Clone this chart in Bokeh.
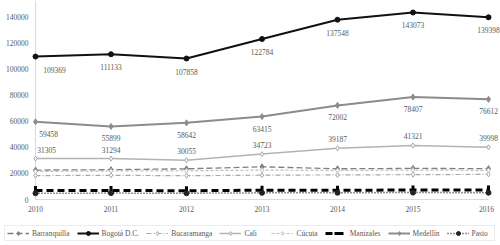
import math
from bokeh.plotting import figure
from bokeh.models import Range1d, Legend, LegendItem, ColumnDataSource
from bokeh.core.properties import value
from bokeh.embed import file_html
from bokeh.resources import INLINE

years = [2010, 2011, 2012, 2013, 2014, 2015, 2016]
barranquilla = [22500, 22800, 23500, 25000, 23500, 23800, 23600]
bogota = [109369, 111133, 107858, 122784, 137548, 143073, 139398]
bucaramanga = [18300, 18500, 18200, 18600, 18800, 19000, 19200]
cali = [31305, 31294, 30055, 34723, 39187, 41321, 39998]
cucuta = [21500, 21800, 22000, 22500, 22200, 22500, 22300]
manizales = [6800, 6900, 6700, 7100, 7000, 7300, 7200]
medellin = [59458, 55899, 58642, 63415, 72002, 78407, 76612]
pasto = [4800, 4900, 4800, 5100, 5200, 5300, 5200]
y_ticks = [0, 20000, 40000, 60000, 80000, 100000, 120000, 140000]

FONT = "Liberation Serif"
TXT = "#595959"
AXIS = "#d9d9d9"

W, H = 500, 245
X_LEFT, X_RIGHT = 35, 488      # pixel positions of first / last year
Y_ZERO = 199                    # pixel row of value 0 (from top)
Y_TOP_VAL = 152250              # value at the top edge
px_per_year = (X_RIGHT - X_LEFT) / (years[-1] - years[0])
x_start = years[0] - X_LEFT / px_per_year
x_end = years[-1] + (W - X_RIGHT) / px_per_year
y_start = -Y_TOP_VAL * (H - Y_ZERO) / Y_ZERO

p = figure(width=W, height=H, output_backend="svg", toolbar_location=None,
           x_range=Range1d(x_start, x_end), y_range=Range1d(y_start, Y_TOP_VAL),
           x_axis_location=None, y_axis_location=None,
           min_border=0)
p.outline_line_color = None
p.grid.visible = False
p.background_fill_color = "white"

# axis lines
p.segment(x0=[years[0], years[0]], y0=[0, 0], x1=[years[-1], years[0]], y1=[0, Y_TOP_VAL],
          line_color=AXIS, line_width=1)

# y tick labels
p.text(x=[years[0]] * len(y_ticks), y=y_ticks, text=[str(t) for t in y_ticks],
       x_offset=-7, text_font=value(FONT), text_font_size="7.5px", text_color=TXT,
       text_align="right", text_baseline="middle")
# x tick labels
p.text(x=years, y=[0] * len(years), text=[str(y) for y in years],
       x_offset=[0] * (len(years) - 1) + [-2], y_offset=6,
       text_font=value(FONT), text_font_size="7.5px", text_color=TXT,
       text_align="center", text_baseline="top")

series = [
    ("Barranquilla", barranquilla, dict(line_color="#7f7f7f", line_width=1.3, line_dash="6 3"),
     dict(marker="diamond", size=6, color="#7f7f7f")),
    ("Bogotá D.C.", bogota, dict(line_color="#111111", line_width=2),
     dict(marker="circle", size=5, color="#111111")),
    ("Bucaramanga", bucaramanga, dict(line_color="#a6a6a6", line_width=1.2, line_dash="5 2 1 2"),
     dict(marker="diamond", size=5, fill_color="white", line_color="#a6a6a6")),
    ("Cali", cali, dict(line_color="#b3b3b3", line_width=1.5),
     dict(marker="diamond", size=5, fill_color="white", line_color="#a6a6a6")),
    ("Cúcuta", cucuta, dict(line_color="#bfbfbf", line_width=1.2, line_dash="3 2"),
     dict(marker="diamond", size=5, fill_color="white", line_color="#bfbfbf")),
    ("Manizales", manizales, dict(line_color="#000000", line_width=3, line_dash="7 4"),
     dict(marker="dash", size=9, angle=math.pi / 2, line_color="#000000", line_width=3)),
    ("Medellín", medellin, dict(line_color="#8c8c8c", line_width=2),
     dict(marker="diamond", size=6, color="#8c8c8c")),
    ("Pasto", pasto, dict(line_color="#222222", line_width=1.5, line_dash="1 2"),
     dict(marker="circle", size=5, color="#222222")),
]

items = []
for name, vals, lstyle, mstyle in series:
    src = ColumnDataSource(dict(x=years, y=vals))
    r1 = p.line("x", "y", source=src, **lstyle)
    r2 = p.scatter("x", "y", source=src, **mstyle)
    items.append(LegendItem(label=name, renderers=[r1, r2]))

def add_labels(vals, y_off, first_off):
    n = len(vals)
    xo = [first_off if i == 0 else 0 for i in range(n)]
    src = ColumnDataSource(dict(x=years, y=vals, t=[str(v) for v in vals], xo=xo))
    p.text("x", "y", text="t", source=src, x_offset="xo", y_offset=y_off,
           text_font=value(FONT), text_font_size="7.5px", text_color=TXT,
           text_align="center", text_baseline="middle")

add_labels(bogota, 13, 19)
add_labels(medellin, 12, 13)
add_labels(cali, -9, 11)

legend = Legend(items=items, orientation="horizontal", location="bottom_left",
                label_text_font=FONT, label_text_font_size="7.5px", label_text_color=TXT,
                glyph_width=22, glyph_height=10, label_height=10, label_standoff=3,
                spacing=7, padding=2, margin=4,
                border_line_color="#d9d9d9", background_fill_alpha=1)
p.add_layout(legend)

open("out.html", "w").write(file_html(p, INLINE))
